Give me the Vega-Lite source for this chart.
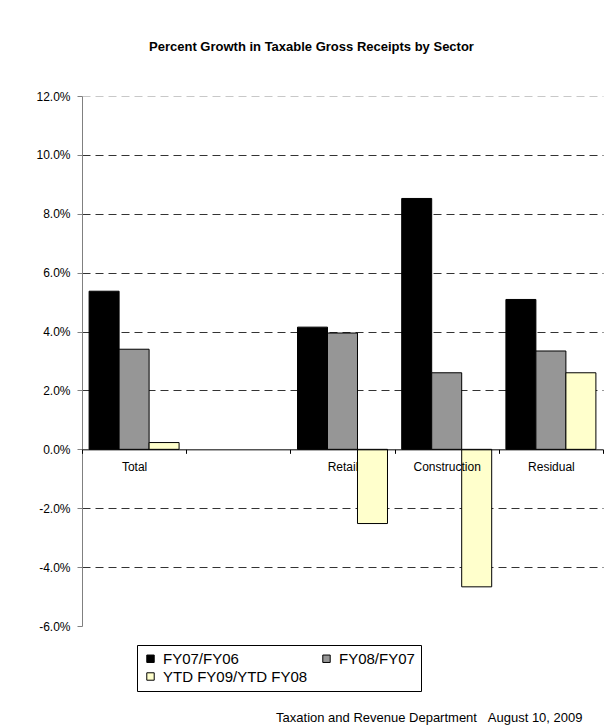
{
  "$schema": "https://vega.github.io/schema/vega-lite/v6.json",
  "padding": {"left": 35, "top": 41, "right": 5, "bottom": 0},
  "background": "white",
  "config": {"font": "Liberation Sans", "view": {"stroke": null}, "concat": {"spacing": 0}},
  "title": {"text": "Taxation and Revenue Department\u00a0\u00a0\u00a0August 10, 2009", "orient": "bottom", "anchor": "end", "fontSize": 13, "fontWeight": "normal", "color": "black", "offset": 20, "dx": -21},
  "vconcat": [
    {
      "title": {"text": "Percent Growth in Taxable Gross Receipts by Sector", "fontSize": 13, "fontWeight": "bold", "anchor": "middle", "frame": "group", "dx": -31, "offset": 36, "color": "black"},
      "width": 521,
      "height": 530,
      "data": {"values": [
        {"sector": "Total", "series": "FY07/FY06", "growth": 5.37},
        {"sector": "Total", "series": "FY08/FY07", "growth": 3.40},
        {"sector": "Total", "series": "YTD FY09/YTD FY08", "growth": 0.23},
        {"sector": "Retail", "series": "FY07/FY06", "growth": 4.15},
        {"sector": "Retail", "series": "FY08/FY07", "growth": 3.95},
        {"sector": "Retail", "series": "YTD FY09/YTD FY08", "growth": -2.52},
        {"sector": "Construction", "series": "FY07/FY06", "growth": 8.52},
        {"sector": "Construction", "series": "FY08/FY07", "growth": 2.60},
        {"sector": "Construction", "series": "YTD FY09/YTD FY08", "growth": -4.67},
        {"sector": "Residual", "series": "FY07/FY06", "growth": 5.09},
        {"sector": "Residual", "series": "FY08/FY07", "growth": 3.34},
        {"sector": "Residual", "series": "YTD FY09/YTD FY08", "growth": 2.60}
      ]},
      "mark": {"type": "bar", "stroke": "#000000", "strokeWidth": 1},
      "encoding": {
        "x": {
          "field": "sector", "type": "nominal",
          "scale": {"domain": ["Total", " ", "Retail", "Construction", "Residual"], "paddingInner": 0, "paddingOuter": 0},
          "axis": {"title": null, "offset": -176.67, "tickBand": "extent", "labelAngle": 0, "labelFontSize": 12, "labelColor": "black", "domainColor": "black", "tickColor": "black", "tickSize": 4, "labelPadding": 8, "zindex": 1, "grid": false}
        },
        "xOffset": {
          "field": "series", "type": "nominal",
          "sort": ["FY07/FY06", "FY08/FY07", "YTD FY09/YTD FY08"],
          "scale": {"paddingInner": 0, "paddingOuter": 0.237}
        },
        "y": {
          "field": "growth", "type": "quantitative",
          "scale": {"domain": [-6, 12], "nice": false},
          "axis": {
            "title": null,
            "values": [-6, -4, -2, 0, 2, 4, 6, 8, 10, 12],
            "labelExpr": "(datum.value < 0 ? '-' : '') + format(abs(datum.value), '.1f') + '%'",
            "labelFontSize": 12, "labelColor": "black", "labelPadding": 7,
            "tickSize": 5, "tickColor": "#808080", "domainColor": "#808080",
            "grid": true,
            "gridDash": [8, 5],
            "gridColor": {"condition": {"test": "datum.value >= 12", "value": "#c8c8c8"}, "value": "#333333"},
            "gridOpacity": {"condition": {"test": "datum.value == 0 || datum.value == -6", "value": 0}, "value": 1}
          }
        },
        "color": {
          "field": "series", "type": "nominal",
          "scale": {"domain": ["FY07/FY06", "FY08/FY07", "YTD FY09/YTD FY08"], "range": ["#000000", "#969696", "#FFFFCC"]},
          "legend": {
            "title": null, "orient": "none", "legendX": 55, "legendY": 549,
            "direction": "horizontal",
            "columns": 2, "gridAlign": "all", "columnPadding": 11, "rowPadding": 2,
            "padding": 6, "strokeColor": "black", "fillColor": "white",
            "labelFontSize": 15, "labelColor": "black", "labelLimit": 300, "labelOffset": 5,
            "symbolType": "square", "symbolSize": 55, "symbolStrokeColor": "black", "symbolStrokeWidth": 1
          }
        }
      }
    }
  ]
}
